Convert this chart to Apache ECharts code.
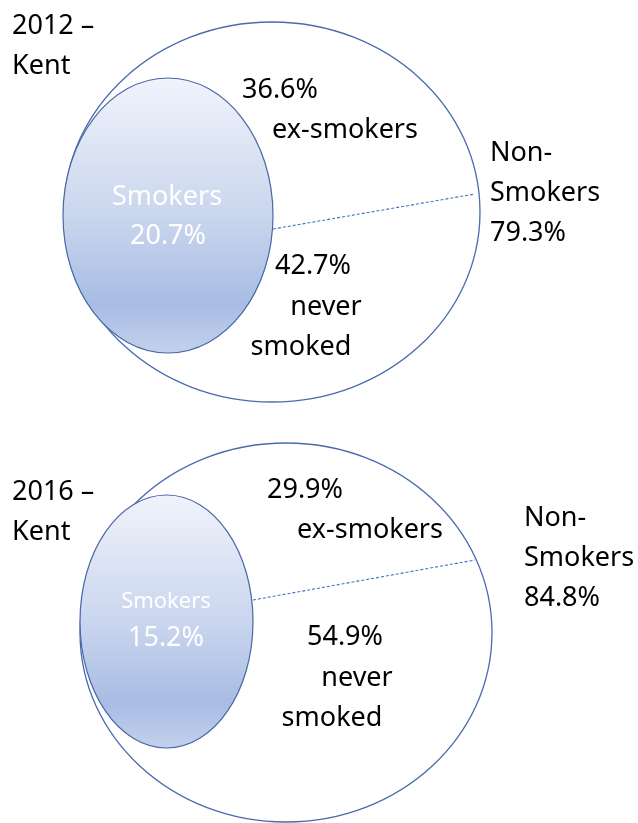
<!DOCTYPE html>
<html><head><meta charset="utf-8">
<script src="https://cdn.jsdelivr.net/npm/echarts@6/dist/echarts.min.js"></script>
<style>html,body{margin:0;padding:0;background:#fff}#chart{width:638px;height:823px}</style>
</head><body><div id="chart"></div>
<script>
// ---- data ----
const years = ['2012', '2016'];
const place = ['Kent', 'Kent'];
const smokers = [20.7, 15.2];
const exSmokers = [36.6, 29.9];
const neverSmoked = [42.7, 54.9];
const nonSmokers = [79.3, 84.8];
const smokersLabel = 'Smokers';
const exLabel = 'ex-smokers';
const neverLabel = ['never', 'smoked'];
const nonLabel = ['Non-', 'Smokers'];

// ---- layout (axis units) ----
const layout = [
  {outer:[272,212,208,190], inner:[168,215.5,105,137.5], divider:[273,229,475,194],
   title:[12,26], exPos:[[280,90],[345,130]], neverPos:[[313,266],[326,307],[301,347]],
   nonPos:[490,153], smPos:[[167,197],[168,236]], smFont:27},
  {outer:[286,632.5,206,189.5], inner:[166.5,621.5,86.5,126.5], divider:[253,600,475,560],
   title:[12,492], exPos:[[305,490],[370,530]], neverPos:[[345,637],[357,678],[332,718]],
   nonPos:[524,518], smPos:[[166,602],[166,638]], smFont:22}
];
const FONT = '"Noto Sans", sans-serif';
const pct = v => v.toFixed(1) + '%';

function txt(api, pos, text, size, color, align) {
  const p = api.coord(pos);
  return {type:'text', x:p[0], y:p[1],
    style:{text:text, font:'normal ' + size + 'px ' + FONT, fill:color,
      align:align || 'center', verticalAlign:'middle'}};
}

function renderItem(params, api) {
  const i = params.dataIndex;
  const L = layout[i];
  const ch = [];
  const oc = api.coord([L.outer[0], L.outer[1]]);
  const os = api.size([L.outer[2], L.outer[3]]);
  ch.push({type:'ellipse', shape:{cx:oc[0], cy:oc[1], rx:os[0], ry:os[1]},
    style:{fill:'#ffffff', stroke:'#4a6aae', lineWidth:1.3}});
  const d1 = api.coord([L.divider[0], L.divider[1]]);
  const d2 = api.coord([L.divider[2], L.divider[3]]);
  ch.push({type:'line', shape:{x1:d1[0], y1:d1[1], x2:d2[0], y2:d2[1]},
    style:{stroke:'#4472c4', lineWidth:1.1, lineDash:[3,2]}});
  const ic = api.coord([L.inner[0], L.inner[1]]);
  const is = api.size([L.inner[2], L.inner[3]]);
  ch.push({type:'ellipse', shape:{cx:ic[0], cy:ic[1], rx:is[0], ry:is[1]},
    style:{stroke:'#4a68a6', lineWidth:1.2,
      fill:{type:'linear', x:0, y:0, x2:0, y2:1, colorStops:[
        {offset:0, color:'#f0f3fb'}, {offset:0.5, color:'#cad6ee'},
        {offset:0.82, color:'#a8bce4'}, {offset:1, color:'#c3d1ec'}]}}});
  // titles
  ch.push(txt(api, L.title, years[i] + ' \u2013', 27, '#000', 'left'));
  ch.push(txt(api, [L.title[0], L.title[1] + 40], place[i], 27, '#000', 'left'));
  // ex-smokers
  ch.push(txt(api, L.exPos[0], pct(exSmokers[i]), 27, '#000'));
  ch.push(txt(api, L.exPos[1], exLabel, 27, '#000'));
  // never smoked
  ch.push(txt(api, L.neverPos[0], pct(neverSmoked[i]), 27, '#000'));
  ch.push(txt(api, L.neverPos[1], neverLabel[0], 27, '#000'));
  ch.push(txt(api, L.neverPos[2], neverLabel[1], 27, '#000'));
  // non-smokers
  ch.push(txt(api, L.nonPos, nonLabel[0], 27, '#000', 'left'));
  ch.push(txt(api, [L.nonPos[0], L.nonPos[1] + 40], nonLabel[1], 27, '#000', 'left'));
  ch.push(txt(api, [L.nonPos[0], L.nonPos[1] + 80], pct(nonSmokers[i]), 27, '#000', 'left'));
  // smokers
  ch.push(txt(api, L.smPos[0], smokersLabel, L.smFont, '#ffffff'));
  ch.push(txt(api, L.smPos[1], pct(smokers[i]), 27, '#ffffff'));
  return {type:'group', children:ch};
}

const chart = echarts.init(document.getElementById('chart'), null, {renderer:'canvas'});
chart.setOption({
  animation:false,
  backgroundColor:'#ffffff',
  grid:{left:0, right:0, top:0, bottom:0},
  xAxis:{type:'value', min:0, max:638, show:false},
  yAxis:{type:'value', min:0, max:823, inverse:true, show:false},
  series:[{type:'custom', clip:false, renderItem:renderItem,
    data:years.map((y, i) => [layout[i].outer[0], layout[i].outer[1]])}]
});
</script></body></html>
